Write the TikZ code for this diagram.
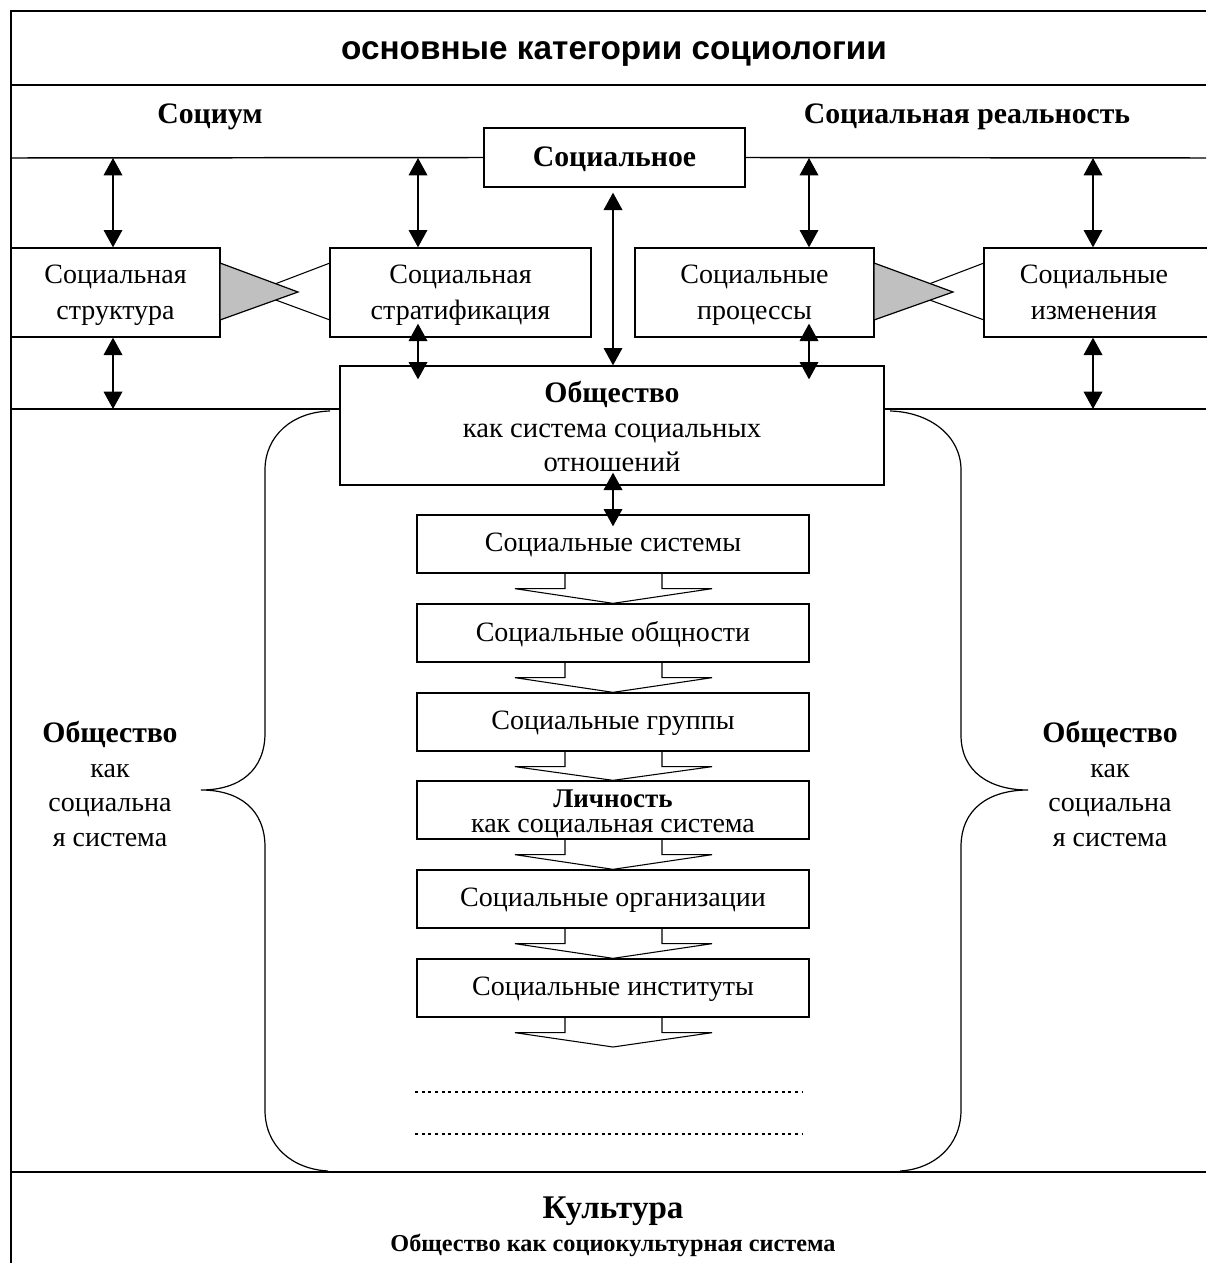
\documentclass[tikz,border=0pt]{standalone}
\usepackage{fontspec}
\setmainfont{Liberation Serif}
\newfontfamily\titlefont{Liberation Sans}
\usetikzlibrary{arrows.meta,fit,calc}
\definecolor{triGray}{RGB}{192,192,192}
\begin{document}
\begin{tikzpicture}[x=0.75pt,y=-0.75pt,
  every node/.style={inner sep=0pt, font=\fontsize{21}{27}\selectfont},
  frame/.style={line width=1.1pt},
  box/.style={draw, line width=1pt, fill=white, inner sep=0pt},
  txt/.style={align=center, font=\fontsize{21}{27}\selectfont},
  two/.style={txt, text depth=0pt},
  bld/.style={font=\bfseries\fontsize{22.3}{27}\selectfont},
  dbl/.style={line width=1pt, {Triangle[length=13pt,width=14pt]}-{Triangle[length=13pt,width=14pt]}},
  chev/.style={line width=0.8pt},
  brace/.style={line width=0.9pt},
  fish/.style={line width=0.8pt},
  tri/.style={draw, line width=0.9pt, fill=triGray},
  dots/.style={line width=2.2pt, dash pattern=on 2.2pt off 2.8pt}
]
\useasboundingbox (0,0) rectangle (1206,1263);
\fill[white] (0,0) rectangle (1206,1263);

% frame
\draw[frame] (11,1263) -- (11,11) -- (1206,11);
\draw[frame] (11,85) -- (1206,85);
\draw[frame] (11,1172) -- (1206,1172);

% title and headers
\node[font=\titlefont\bfseries\fontsize{25}{30}\selectfont] (title) at (614,54) {основные категории социологии};
\node[bld] (socium) at (210,117) {Социум};
\node[bld] (real) at (967,117) {Социальная реальность};

% Социальное
\node[box, fit={(484,128)(745,187)}] (socl) {};
\node[bld] (socl-t) at ($(socl.center)+(0,2)$) {Социальное};
\draw[frame] (11,158) -- (socl.west);
\draw[frame] (socl.east) -- (1206,158);

% second row
\node[box, fit={(11,248)(220,337)}] (struct) {};
\node[two] (struct-t) at (struct.center) {Социальная\\структура};
\node[box, fit={(330,248)(591,337)}] (strat) {};
\node[two] (strat-t) at (strat.center) {Социальная\\стратификация};
\node[box, fit={(635,248)(874,337)}] (proc) {};
\node[two] (proc-t) at (proc.center) {Социальные\\процессы};
\node[box, fit={(984,248)(1210,337)}] (chg) {};
\node[two] (chg-t) at (1094,292.5) {Социальные\\изменения};

% Общество box
\node[box, fit={(340,366)(884,485)}] (obsch) {};
\node[txt, font=\fontsize{21.5}{26}\selectfont] (obsch-t) at ($(obsch.center)+(0,1)$) {{\bfseries\fontsize{22.3}{26}\selectfont Общество}\\как система социальных\\отношений};
\draw[frame] (11,409) -- (obsch.west |- 0,409);
\draw[frame] (obsch.east |- 0,409) -- (1206,409);

% stack
\node[box, fit={(417,515)(809,573)}] (s1) {};
\node[txt] (s1-t) at ($(s1.center)+(0,1)$) {Социальные системы};
\node[box, fit={(417,604)(809,662)}] (s2) {};
\node[txt] (s2-t) at ($(s2.center)+(0,1)$) {Социальные общности};
\node[box, fit={(417,693)(809,751)}] (s3) {};
\node[txt] (s3-t) at ($(s3.center)+(0,1)$) {Социальные группы};
\node[box, fit={(417,781)(809,839)}] (s4) {};
\node[txt, font=\fontsize{21}{19}\selectfont] (s4-t) at ($(s4.center)+(0,4)$) {{\bfseries\fontsize{20.25}{19}\selectfont Личность}\\как социальная система};
\node[box, fit={(417,870)(809,928)}] (s5) {};
\node[txt] (s5-t) at ($(s5.center)+(0,1)$) {Социальные организации};
\node[box, fit={(417,959)(809,1017)}] (s6) {};
\node[txt] (s6-t) at ($(s6.center)+(0,1)$) {Социальные институты};
\coordinate (s7) at (613,1047);

\foreach \a/\b in {s1/s2,s2/s3,s3/s4,s4/s5,s5/s6}
  \draw[chev] ($(\a.south)+(-48,0)$) -- ++(0,15) -- ++(-50,0) -- (\b.north) -- ($(\a.south)+(99,15)$) -- ++(-50,0) -- ++(0,-15);
\draw[chev] ($(s6.south)+(-48,0)$) -- ++(0,15) -- ++(-50,0) -- (s7) -- ($(s6.south)+(99,15)$) -- ++(-50,0) -- ++(0,-15);

% fishtails
\draw[fish] (330,263) -- (254,292) -- (330,320);
\draw[tri] (220,263) -- (298,292) -- (220,320) -- cycle;
\draw[fish] (984,263) -- (908,292) -- (984,320);
\draw[tri] (874,263) -- (953,292) -- (874,320) -- cycle;

% arrows
\draw[dbl] (113,158) -- (struct.north -| 113,0);
\draw[dbl] (418,158) -- (strat.north -| 418,0);
\draw[dbl] (809,158) -- (proc.north -| 809,0);
\draw[dbl] (1093,158) -- (chg.north -| 1093,0);
\draw[dbl] (struct.south -| 113,0) -- (113,409);
\draw[dbl] (chg.south -| 1093,0) -- (1093,409);
\draw[dbl] ($(strat.south -| 418,0)+(0,-14)$) -- ($(obsch.north -| 418,0)+(0,14)$);
\draw[dbl] ($(proc.south -| 809,0)+(0,-14)$) -- ($(obsch.north -| 809,0)+(0,14)$);
\draw[dbl] ($(socl.south -| 613,0)+(0,5)$) -- (obsch.north -| 613,0);
\draw[dbl] ($(obsch.south -| 613,0)+(0,-13)$) -- ($(s1.north)+(0,12)$);

% dotted lines
\draw[dots] (415,1092) -- (803,1092);
\draw[dots] (415,1134) -- (803,1134);

% braces
\draw[brace] (330,411) .. controls (292,412) and (265,436) .. (265,470) -- (265,733)
  .. controls (265,770) and (240,790) .. (201,790)
  .. controls (240,790) and (265,810) .. (265,847) -- (265,1110)
  .. controls (265,1146) and (292,1169) .. (328,1171);
\draw[brace] (890,411) .. controls (930,412) and (961,436) .. (961,470) -- (961,735)
  .. controls (961,772) and (990,790) .. (1028,790)
  .. controls (990,790) and (961,808) .. (961,847) -- (961,1110)
  .. controls (961,1146) and (934,1169) .. (900,1171);

% side texts
\node[txt, font=\fontsize{21}{26}\selectfont] (lside) at (110,784) {{\bfseries\fontsize{22.3}{26}\selectfont Общество}\\как\\социальна\\я система};
\node[txt, font=\fontsize{21}{26}\selectfont] (rside) at (1110,784) {{\bfseries\fontsize{22.3}{26}\selectfont Общество}\\как\\социальна\\я система};

% bottom
\node[font=\bfseries\fontsize{24.8}{28}\selectfont] (kult) at (613,1211) {Культура};
\node[font=\bfseries\fontsize{18.2}{22}\selectfont] (kult2) at (613,1245) {Общество как социокультурная система};
\end{tikzpicture}
\end{document}
